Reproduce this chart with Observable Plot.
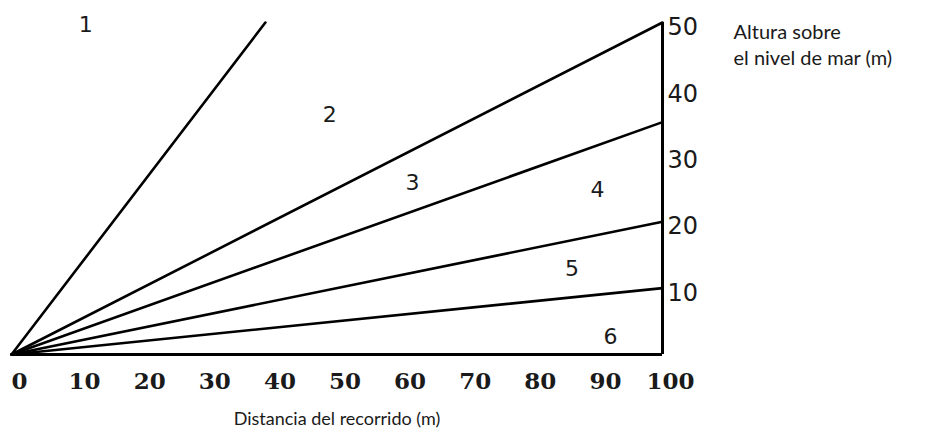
<!DOCTYPE html>
<html><head><meta charset="utf-8">
<script src="https://cdn.jsdelivr.net/npm/d3@7"></script>
<script src="https://cdn.jsdelivr.net/npm/@observablehq/plot@0.6"></script>
<style>
body{margin:0;background:#fff}
#chart{width:939px;height:433px;overflow:hidden}
</style>
</head><body><div id="chart"></div>
<script>
// Slope lines from the origin (0,0) to their end points
const slopeNames = ["1", "2", "3", "4", "5"];
const endX = [39, 100, 100, 100, 100];
const endY = [50, 50, 35, 20, 10];

// Region labels
const regionNames = ["1", "2", "3", "4", "5", "6"];
const regionX = [11.4, 48.9, 61.6, 90, 86.1, 92];
const regionY = [49.6, 36.1, 25.8, 24.8, 12.9, 2.7];

// Ticks and titles
const xTicks = [0, 10, 20, 30, 40, 50, 60, 70, 80, 90, 100];
const yTicks = [10, 20, 30, 40, 50];
const xTitle = "Distancia del recorrido (m)";
const yTitle = ["Altura sobre", "el nivel de mar (m)"];

const lines = slopeNames.map((n, i) => ({name: n, x2: endX[i], y2: endY[i]}));
const regions = regionNames.map((n, i) => ({name: n, x: regionX[i], y: regionY[i]}));

const chart = Plot.plot({
  width: 939,
  height: 433,
  marginLeft: 11,
  marginRight: 277,
  marginTop: 22,
  marginBottom: 79,
  x: {domain: [0, 100]},
  y: {domain: [0, 50]},
  style: {background: "#fff", color: "#1a1a1a", fontFamily: "DejaVu Sans"},
  marks: [
    Plot.ruleY([0], {stroke: "#000", strokeWidth: 3}),
    Plot.ruleX([100], {y1: 0, y2: 50, stroke: "#000", strokeWidth: 3}),
    Plot.link(lines, {x1: () => 0, y1: () => 0, x2: "x2", y2: "y2", stroke: "#000", strokeWidth: 2.6, strokeLinecap: "round"}),
    Plot.axisX({ticks: xTicks, tickSize: 0, tickPadding: 18, dx: 8, fontSize: 23, fontFamily: "DejaVu Serif", fontWeight: "bold", fill: "#1a1a1a", label: null}),
    Plot.axisY({anchor: "right", ticks: yTicks, tickSize: 0, tickPadding: 5, dy: 5, fontSize: 24, fontFamily: "DejaVu Sans", fill: "#1a1a1a", label: null}),
    Plot.text(regions, {x: "x", y: "y", text: "name", fontSize: 22, fontFamily: "DejaVu Sans", fill: "#1a1a1a"}),
    Plot.text([xTitle], {frameAnchor: "bottom", dy: 70, fontSize: 18, fontFamily: "Lato", fill: "#1a1a1a", letterSpacing: "0.2px"}),
    Plot.text([yTitle.join("\n")], {frameAnchor: "top-right", dx: 71, dy: -2, textAnchor: "start", lineAnchor: "top", lineHeight: 1.3, fontSize: 20, fontFamily: "Lato", fill: "#1a1a1a", letterSpacing: "1.5px"})
  ]
});
document.getElementById("chart").append(chart);
</script>
</body></html>
